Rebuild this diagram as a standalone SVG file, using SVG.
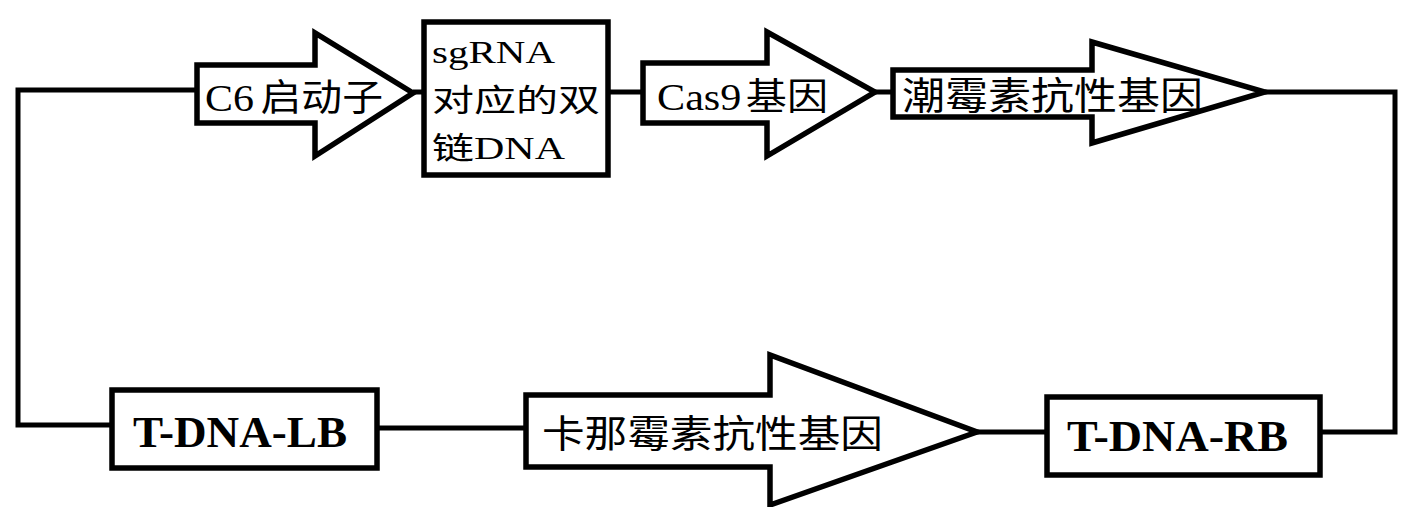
<svg xmlns="http://www.w3.org/2000/svg" width="1411" height="507" viewBox="0 0 1411 507">
<style>
.shape{fill:#fff;stroke:#000;stroke-width:5.5;stroke-linejoin:miter}
.conn{fill:none;stroke:#000;stroke-width:5;stroke-linejoin:miter}
.lat{font-family:"Liberation Serif","Noto Sans CJK SC",serif;font-size:36px;fill:#000}
.cjk{font-family:"Noto Sans CJK SC","Liberation Serif",serif;font-size:37px;fill:#000}
.box{font-size:31px}
.tdna{font-family:"Liberation Serif","Noto Sans CJK SC",serif;font-size:44px;font-weight:bold;fill:#000}
</style>
<rect width="1411" height="507" fill="#fff"/>
<g id="connectors">
<polyline class="conn" points="112,425 18,425 18,90 197,90"/>
<line class="conn" x1="413" y1="92" x2="424" y2="92"/>
<line class="conn" x1="608" y1="92" x2="643" y2="92"/>
<line class="conn" x1="875" y1="92" x2="893" y2="92"/>
<polyline class="conn" points="1265,92 1395,92 1395,432 1320,432"/>
<line class="conn" x1="377" y1="428" x2="526" y2="428"/>
<line class="conn" x1="977" y1="432" x2="1047" y2="432"/>
</g>
<g id="c6-promoter">
<polygon class="shape" points="197,65 315,65 315,33 413,93 315,156 315,123 197,123"/>
<text x="205" y="111" textLength="178" lengthAdjust="spacingAndGlyphs"><tspan class="lat" style="font-size:38px">C6</tspan><tspan class="cjk" dx="6">启动子</tspan></text>
</g>
<g id="sgrna-dsdna">
<rect class="shape" x="424" y="22" width="184" height="153"/>
<text class="lat box" x="432" y="63" textLength="123" lengthAdjust="spacingAndGlyphs">sgRNA</text>
<text class="cjk box" x="432" y="111" textLength="168" lengthAdjust="spacingAndGlyphs">对应的双</text>
<text x="432" y="159" textLength="133" lengthAdjust="spacingAndGlyphs"><tspan class="cjk box">链</tspan><tspan class="lat box">DNA</tspan></text>
</g>
<g id="cas9-gene">
<polygon class="shape" points="643,63 767,63 767,32 875,92 767,156 767,123 643,123"/>
<text x="657" y="110" textLength="171" lengthAdjust="spacingAndGlyphs"><tspan class="lat" style="font-size:38px">Cas9</tspan><tspan class="cjk" dx="4">基因</tspan></text>
</g>
<g id="hygromycin-resistance">
<polygon class="shape" points="893,70 1092,70 1092,42 1265,92 1092,143 1092,117 893,117"/>
<text class="cjk" x="902" y="109" textLength="301" lengthAdjust="spacingAndGlyphs" style="font-size:38px">潮霉素抗性基因</text>
</g>
<g id="kanamycin-resistance">
<polygon class="shape" points="526,395 770,395 770,355 977,432 770,505 770,467 526,467"/>
<text class="cjk" x="542" y="447" textLength="341" lengthAdjust="spacingAndGlyphs" style="font-size:38px">卡那霉素抗性基因</text>
</g>
<g id="t-dna-lb">
<rect class="shape" x="112" y="390" width="265" height="78"/>
<text class="tdna" x="133" y="447" textLength="214" lengthAdjust="spacingAndGlyphs">T-DNA-LB</text>
</g>
<g id="t-dna-rb">
<rect class="shape" x="1047" y="397" width="273" height="78"/>
<text class="tdna" x="1067" y="451" textLength="221" lengthAdjust="spacingAndGlyphs">T-DNA-RB</text>
</g>
</svg>
